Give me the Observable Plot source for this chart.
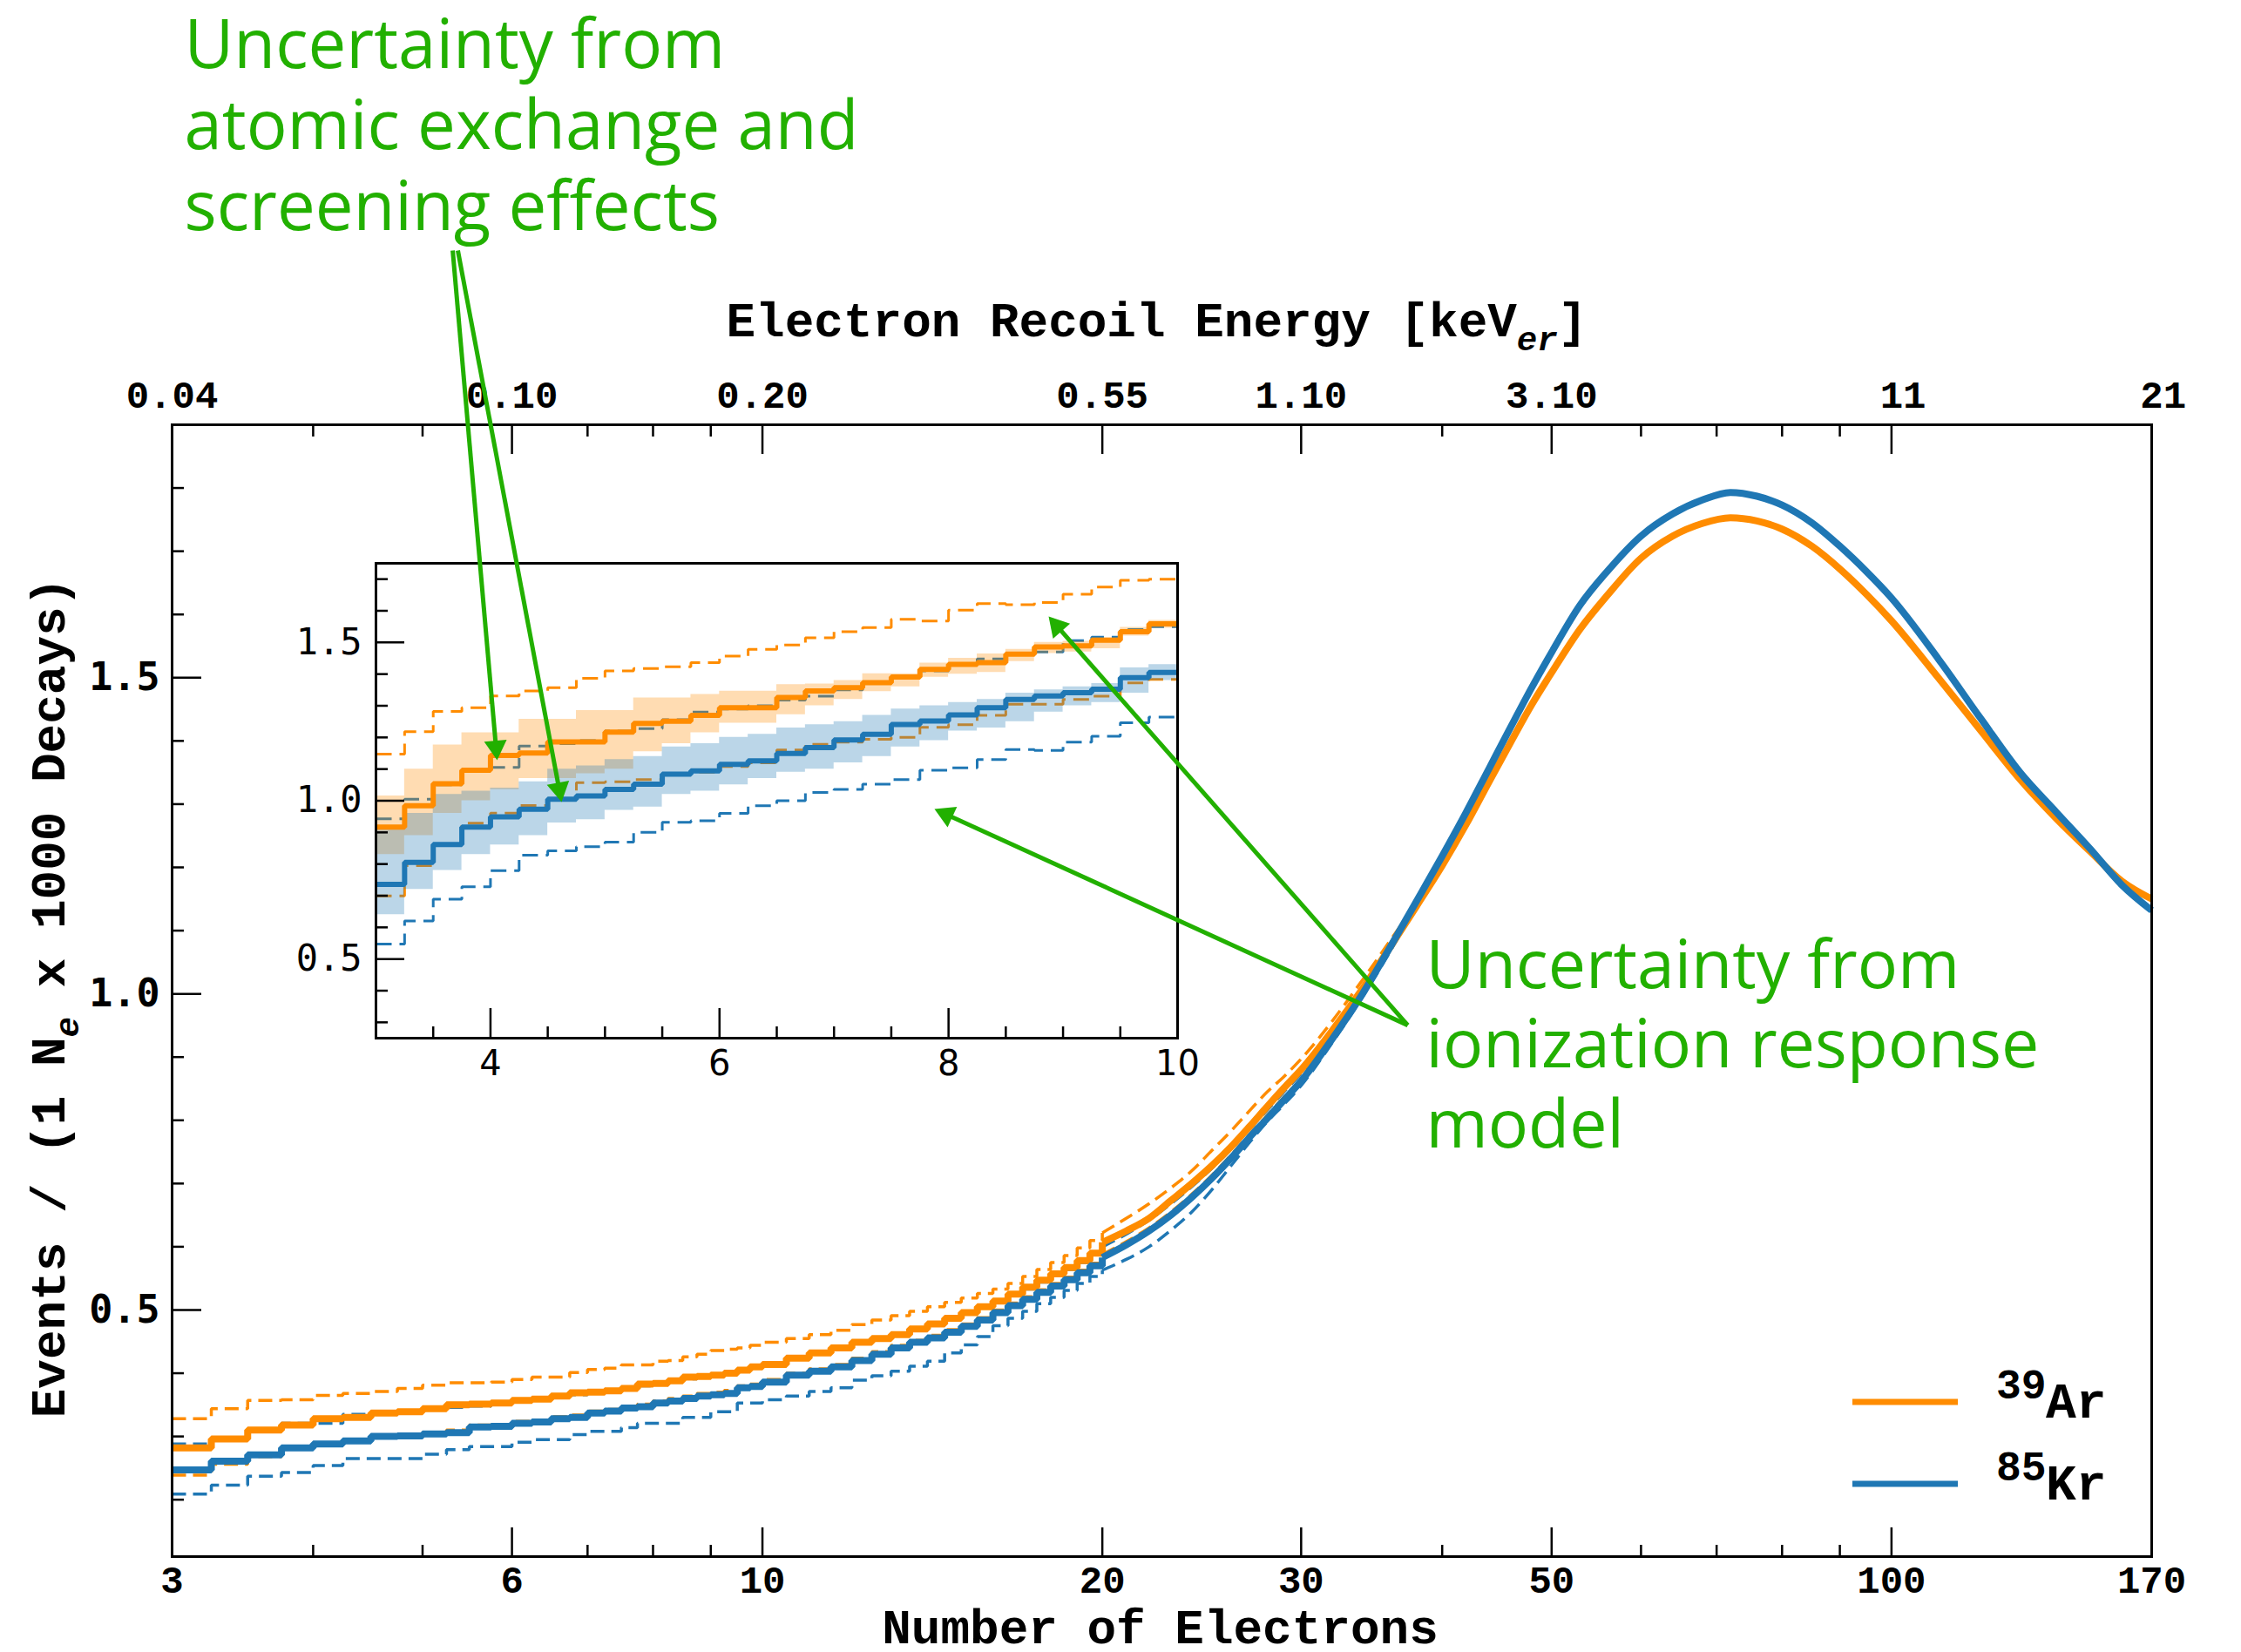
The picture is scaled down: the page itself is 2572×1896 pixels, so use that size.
<!DOCTYPE html>
<html>
<head>
<meta charset="utf-8">
<script src="https://cdn.jsdelivr.net/npm/d3@7"></script>
<script src="https://cdn.jsdelivr.net/npm/@observablehq/plot@0.6"></script>
<style>
  html, body { margin: 0; padding: 0; background: #fff; }
  #fig { position: relative; width: 2572px; height: 1896px; overflow: hidden; }
  #fig svg { position: absolute; }
  #fig svg text, #fig svg tspan { white-space: pre; }
</style>
</head>
<body>
<div id="fig"></div>
<script>
// ---------------- main spectrum: Number of electrons (log x) ----------------
// fine bins below 20 electrons (drawn as steps)
const stepNe = [3, 3.25, 3.5, 3.75, 4, 4.25, 4.5, 4.75, 5, 5.25, 5.5, 5.75, 6, 6.25, 6.5, 6.75,
  7, 7.25, 7.5, 7.75, 8, 8.25, 8.5, 8.75, 9, 9.25, 9.5, 9.75,
  10, 10.5, 11, 11.5, 12, 12.5, 13, 13.5, 14, 14.5, 15, 15.5, 16, 16.5, 17, 17.5, 18, 18.5, 19, 19.5];

const arMain = [0.282, 0.296, 0.310, 0.318, 0.328, 0.330, 0.337, 0.339, 0.344, 0.350, 0.351, 0.353, 0.357, 0.359, 0.364, 0.369,
  0.370, 0.372, 0.376, 0.383, 0.384, 0.388, 0.394, 0.395, 0.397, 0.400, 0.405, 0.410,
  0.414, 0.424, 0.432, 0.440, 0.449, 0.455, 0.461, 0.470, 0.478, 0.487, 0.496, 0.505, 0.514, 0.525, 0.536, 0.547, 0.557, 0.567, 0.578, 0.590];
const krMain = [0.247, 0.261, 0.271, 0.282, 0.288, 0.293, 0.300, 0.301, 0.304, 0.306, 0.315, 0.316, 0.321, 0.323, 0.328, 0.330,
  0.337, 0.340, 0.345, 0.347, 0.353, 0.356, 0.360, 0.364, 0.366, 0.368, 0.377, 0.379,
  0.386, 0.397, 0.403, 0.410, 0.420, 0.430, 0.440, 0.449, 0.456, 0.465, 0.474, 0.484, 0.496, 0.507, 0.517, 0.528, 0.538, 0.548, 0.559, 0.570];
const arUpper = [0.328, 0.344, 0.357, 0.358, 0.365, 0.368, 0.371, 0.376, 0.381, 0.385, 0.385, 0.386, 0.390, 0.394, 0.394, 0.401,
  0.406, 0.408, 0.413, 0.413, 0.419, 0.420, 0.426, 0.430, 0.436, 0.438, 0.440, 0.444,
  0.449, 0.455, 0.461, 0.468, 0.477, 0.484, 0.491, 0.498, 0.505, 0.512, 0.519, 0.526, 0.533, 0.542, 0.553, 0.564, 0.575, 0.586, 0.598, 0.610];
const arLower = [0.239, 0.256, 0.268, 0.280, 0.287, 0.292, 0.300, 0.302, 0.306, 0.310, 0.318, 0.319, 0.324, 0.326, 0.331, 0.334,
  0.340, 0.343, 0.348, 0.351, 0.356, 0.360, 0.364, 0.368, 0.370, 0.373, 0.380, 0.383,
  0.390, 0.400, 0.407, 0.414, 0.424, 0.434, 0.444, 0.452, 0.460, 0.469, 0.478, 0.488, 0.500, 0.511, 0.521, 0.532, 0.542, 0.552, 0.563, 0.574];
const krUpper = [0.288, 0.298, 0.310, 0.321, 0.321, 0.335, 0.336, 0.338, 0.343, 0.346, 0.348, 0.352, 0.355, 0.358, 0.362, 0.366,
  0.369, 0.372, 0.375, 0.380, 0.383, 0.387, 0.391, 0.394, 0.397, 0.400, 0.404, 0.409,
  0.413, 0.422, 0.430, 0.438, 0.447, 0.454, 0.460, 0.468, 0.476, 0.485, 0.494, 0.503, 0.512, 0.523, 0.533, 0.544, 0.554, 0.564, 0.575, 0.587];
const krLower = [0.209, 0.223, 0.237, 0.243, 0.254, 0.265, 0.265, 0.265, 0.272, 0.279, 0.284, 0.284, 0.291, 0.295, 0.295, 0.303,
  0.308, 0.308, 0.314, 0.321, 0.321, 0.321, 0.330, 0.330, 0.339, 0.339, 0.353, 0.353,
  0.358, 0.364, 0.371, 0.377, 0.389, 0.396, 0.403, 0.411, 0.419, 0.432, 0.445, 0.458, 0.475, 0.487, 0.498, 0.510, 0.520, 0.531, 0.542, 0.553];

// from 20 electrons upward the bins are too narrow to show individually
const smoothNe = [20, 21, 22, 23, 24, 25, 26, 27, 28, 29, 30, 32, 34, 36, 38, 40, 42, 44, 46, 48, 50,
  53, 56, 60, 64, 68, 72, 76, 80, 85, 90, 95, 100, 110, 120, 130, 140, 150, 160, 170];
const arSmooth = [0.607, 0.625, 0.645, 0.673, 0.700, 0.728, 0.758, 0.790, 0.822, 0.852, 0.880, 0.943, 1.008, 1.075, 1.140, 1.203, 1.268, 1.335, 1.398, 1.457, 1.508,
  1.577, 1.630, 1.689, 1.724, 1.744, 1.753, 1.748, 1.735, 1.708, 1.672, 1.632, 1.590, 1.500, 1.416, 1.339, 1.277, 1.225, 1.178, 1.150];
const krSmooth = [0.583, 0.603, 0.625, 0.650, 0.678, 0.708, 0.740, 0.773, 0.803, 0.833, 0.862, 0.930, 1.000, 1.075, 1.148, 1.218, 1.287, 1.356, 1.422, 1.484, 1.540,
  1.615, 1.668, 1.724, 1.759, 1.781, 1.793, 1.787, 1.773, 1.745, 1.708, 1.668, 1.626, 1.530, 1.435, 1.350, 1.287, 1.229, 1.172, 1.132];

const smoothDashNe = [20, 21, 22, 23, 24, 25, 26, 27, 28, 29, 30, 32, 34, 36, 38, 40];
const arUpperSmooth = [0.622, 0.645, 0.668, 0.693, 0.720, 0.752, 0.783, 0.815, 0.845, 0.870, 0.897, 0.958, 1.022, 1.085, 1.146, 1.208];
const arLowerSmooth = [0.588, 0.608, 0.630, 0.655, 0.683, 0.713, 0.745, 0.778, 0.808, 0.838, 0.866, 0.934, 1.004, 1.072, 1.140, 1.206];
const krUpperSmooth = [0.600, 0.620, 0.642, 0.668, 0.695, 0.724, 0.754, 0.786, 0.816, 0.846, 0.874, 0.942, 1.010, 1.080, 1.150, 1.220];
const krLowerSmooth = [0.563, 0.580, 0.600, 0.626, 0.655, 0.690, 0.728, 0.765, 0.798, 0.826, 0.855, 0.924, 0.995, 1.068, 1.142, 1.214];

// axis ticks
const xMajor = [3, 6, 10, 20, 30, 50, 100, 170];
const xMinor = [4, 5, 7, 8, 9, 40, 60, 70, 80, 90];
const energyLabels = ["0.04", "0.10", "0.20", "0.55", "1.10", "3.10", " 11", " 21"]; // keV_er at xMajor
const yMajor = [0.5, 1.0, 1.5];
const yMinor = [0.2, 0.3, 0.4, 0.6, 0.7, 0.8, 0.9, 1.1, 1.2, 1.3, 1.4, 1.6, 1.7, 1.8];

// ---------------- inset: 3 to 10 electrons ----------------
const insetNe = [3, 3.25, 3.5, 3.75, 4, 4.25, 4.5, 4.75, 5, 5.25, 5.5, 5.75, 6, 6.25,
  6.5, 6.75, 7, 7.25, 7.5, 7.75, 8, 8.25, 8.5, 8.75, 9, 9.25, 9.5, 9.75];
const insetAr = [0.917, 0.984, 1.054, 1.096, 1.143, 1.151, 1.186, 1.186, 1.217, 1.244, 1.251, 1.270, 1.294, 1.294,
  1.326, 1.347, 1.357, 1.373, 1.391, 1.415, 1.431, 1.436, 1.463, 1.486, 1.489, 1.507, 1.534, 1.559];
const insetKr = [0.736, 0.805, 0.862, 0.917, 0.949, 0.973, 1.005, 1.015, 1.036, 1.052, 1.084, 1.094, 1.115, 1.126,
  1.149, 1.168, 1.192, 1.210, 1.241, 1.252, 1.271, 1.294, 1.320, 1.331, 1.341, 1.352, 1.389, 1.405];
// atomic exchange / screening bands
const insetArBandLo = [0.830, 0.890, 0.960, 1.000, 1.035, 1.070, 1.070, 1.085, 1.100, 1.155, 1.180, 1.215, 1.245, 1.245,
  1.272, 1.300, 1.320, 1.345, 1.360, 1.390, 1.400, 1.405, 1.440, 1.465, 1.470, 1.480, 1.520, 1.545];
const insetArBandHi = [1.015, 1.100, 1.176, 1.215, 1.215, 1.257, 1.257, 1.285, 1.285, 1.325, 1.325, 1.336, 1.346, 1.346,
  1.367, 1.369, 1.380, 1.401, 1.401, 1.435, 1.450, 1.464, 1.478, 1.500, 1.504, 1.515, 1.548, 1.570];
const insetKrBandLo = [0.640, 0.720, 0.780, 0.830, 0.860, 0.890, 0.930, 0.940, 0.970, 0.980, 1.020, 1.030, 1.050, 1.070,
  1.090, 1.100, 1.120, 1.140, 1.170, 1.190, 1.220, 1.230, 1.250, 1.280, 1.300, 1.310, 1.340, 1.380];
const insetKrBandHi = [0.920, 0.960, 1.020, 1.030, 1.040, 1.060, 1.100, 1.110, 1.130, 1.140, 1.170, 1.180, 1.200, 1.210,
  1.230, 1.240, 1.250, 1.270, 1.290, 1.300, 1.310, 1.320, 1.340, 1.350, 1.360, 1.370, 1.420, 1.430];
// ionization response model bounds
const insetArUpper = [1.147, 1.218, 1.282, 1.294, 1.331, 1.347, 1.357, 1.387, 1.410, 1.418, 1.423, 1.436, 1.457, 1.478,
  1.492, 1.515, 1.534, 1.547, 1.573, 1.568, 1.602, 1.623, 1.619, 1.626, 1.652, 1.675, 1.696, 1.700];
const insetArLower = [0.699, 0.795, 0.862, 0.929, 0.961, 0.985, 1.005, 1.057, 1.060, 1.067, 1.084, 1.090, 1.108, 1.120,
  1.160, 1.178, 1.185, 1.194, 1.200, 1.232, 1.240, 1.270, 1.305, 1.305, 1.320, 1.330, 1.372, 1.383];
const insetKrUpper = [0.943, 1.005, 1.050, 1.094, 1.105, 1.173, 1.180, 1.190, 1.220, 1.228, 1.256, 1.280, 1.290, 1.300,
  1.318, 1.330, 1.350, 1.370, 1.390, 1.410, 1.430, 1.448, 1.465, 1.470, 1.506, 1.517, 1.541, 1.550];
const insetKrLower = [0.547, 0.620, 0.689, 0.728, 0.779, 0.828, 0.842, 0.855, 0.869, 0.900, 0.932, 0.937, 0.960, 0.984,
  1.000, 1.026, 1.036, 1.052, 1.067, 1.096, 1.104, 1.130, 1.162, 1.159, 1.185, 1.204, 1.246, 1.264];
const insetEnd = 10;

const insetXMajor = [4, 6, 8, 10];
const insetXMinor = [3.5, 4.5, 5, 5.5, 6.5, 7, 7.5, 8.5, 9, 9.5];
const insetYMajor = [0.5, 1.0, 1.5];
const insetYMinor = [0.3, 0.4, 0.6, 0.7, 0.8, 0.9, 1.1, 1.2, 1.3, 1.4, 1.6, 1.7];

// annotation arrows, in inset coordinates (electrons, events)
const arrowTailNe = [3.670, 3.715, 12.01, 12.01];
const arrowTailV  = [2.738, 2.738, 0.291, 0.291];
const arrowTipNe  = [4.058, 4.621, 8.874, 7.877];
const arrowTipV   = [1.128, 0.996, 1.582, 0.974];

const noteAtomic = "Uncertainty from\natomic exchange and\nscreening effects";
const noteIonization = "Uncertainty from\nionization response\nmodel";

// ---------------- styling ----------------
const ORANGE = "#ff8c00", BLUE = "#1f77b4", GREEN = "#22b000";
const MONO = "'Liberation Mono', 'Courier New', monospace";
const SANS_MONO = "'DejaVu Sans Mono', monospace";
const SANS = "'DejaVu Sans', sans-serif";
const NOTE = "'Open Sans', sans-serif";

const W = 2572, H = 1896, ML = 197, MR = 103, MT = 487, MB = 110;

const table = (xs, ys) => xs.map((x, i) => ({x, y: ys[i]}));
const bandTable = (xs, lo, hi, end) =>
  [...xs, end].map((x, i) => ({x, lo: lo[Math.min(i, lo.length - 1)], hi: hi[Math.min(i, hi.length - 1)]}));
const closeSteps = (xs, ys, end, next) => table([...xs, end], [...ys, next]);

const path = (data, stroke, width, dash, curve) => Plot.line(data, {
  x: "x", y: "y", stroke, strokeWidth: width, strokeDasharray: dash, curve,
  strokeLinejoin: curve === "step-after" ? "miter" : "round", strokeLinecap: "butt"
});

// rich text: x_{sub} and x^{sup}
function applyScripts(svg, fs) {
  d3.select(svg).selectAll("text").each(function () {
    const src = this.textContent;
    if (!/[_^]\{/.test(src)) return;
    const el = d3.select(this);
    el.text(null);
    let shift = 0;
    for (const part of src.split(/([_^]\{[^}]*\})/)) {
      if (!part) continue;
      const m = /^([_^])\{(.*)\}$/.exec(part);
      const target = m ? (m[1] === "_" ? 0.3 * fs : -0.45 * fs) : 0;
      const t = el.append("tspan").text(m ? m[2] : part);
      if (target !== shift) t.attr("dy", target - shift);
      shift = target;
      if (m) t.attr("font-size", 0.7 * fs).attr("font-style", m[1] === "_" ? "italic" : null);
    }
  });
}

// ---------------- main plot ----------------
const dashedMain = [
  [arUpper, arUpperSmooth, ORANGE], [arLower, arLowerSmooth, ORANGE],
  [krUpper, krUpperSmooth, BLUE], [krLower, krLowerSmooth, BLUE]
].flatMap(([lo, hi, c]) => [
  path(closeSteps(stepNe, lo, 20, hi[0]), c, 3.5, "16,8", "step-after"),
  path(table(smoothDashNe, hi), c, 3.5, "16,8", "monotone-x")
]);
const solidMain = [[arMain, arSmooth, ORANGE], [krMain, krSmooth, BLUE]].flatMap(([lo, hi, c]) => [
  path(closeSteps(stepNe, lo, 20, hi[0]), c, 8, null, "step-after"),
  path(table(smoothNe, hi), c, 8, null, "monotone-x")
]);

const tickStyle = {strokeWidth: 2.5, label: null};
const main = Plot.plot({
  width: W, height: H, marginLeft: ML, marginRight: MR, marginTop: MT, marginBottom: MB,
  x: {type: "log", domain: [3, 170], label: null},
  y: {domain: [0.11, 1.9], label: null},
  style: {background: "white", color: "black"},
  marks: [
    ...dashedMain,
    ...solidMain,
    Plot.frame({stroke: "black", strokeWidth: 3}),
    Plot.axisX(xMajor, {...tickStyle, anchor: "bottom", tickSize: -33, tickPadding: 43,
      tickFormat: d => `${d}`, fontFamily: MONO, fontWeight: "bold", fontSize: 44}),
    Plot.axisX(xMinor, {...tickStyle, anchor: "bottom", tickSize: -13, tickFormat: () => ""}),
    Plot.axisX(xMajor, {...tickStyle, anchor: "top", tickSize: -33, tickPadding: 53,
      tickFormat: d => energyLabels[xMajor.indexOf(d)], fontFamily: MONO, fontWeight: "bold", fontSize: 44}),
    Plot.axisX(xMinor, {...tickStyle, anchor: "top", tickSize: -13, tickFormat: () => ""}),
    Plot.axisY(yMajor, {...tickStyle, anchor: "left", tickSize: -34, tickPadding: 48,
      tickFormat: d3.format(".1f"), fontFamily: SANS_MONO, fontWeight: "bold", fontSize: 45}),
    Plot.axisY(yMinor, {...tickStyle, anchor: "left", tickSize: -14, tickFormat: () => ""}),
    // axis titles
    Plot.text(["Electron Recoil Energy [keV_{er}]"], {text: d => d, frameAnchor: "top", dx: -6, dy: -102,
      textAnchor: "middle", lineAnchor: "bottom", fontFamily: MONO, fontWeight: "bold", fontSize: 56}),
    Plot.text(["Number of Electrons"], {text: d => d, frameAnchor: "bottom", dx: -2, dy: 99,
      textAnchor: "middle", lineAnchor: "bottom", fontFamily: MONO, fontWeight: "bold", fontSize: 56}),
    Plot.text(["Events / (1 N_{e} x 1000 Decays)"], {text: d => d, frameAnchor: "left", dx: -124, dy: 8,
      rotate: -90, textAnchor: "middle", lineAnchor: "bottom", fontFamily: MONO, fontWeight: "bold", fontSize: 56}),
    // notes
    Plot.text([noteAtomic], {text: d => d, frameAnchor: "top-left", dx: 14, dy: -475, textAnchor: "start",
      lineAnchor: "top", lineHeight: 1.19, fontFamily: NOTE, fontSize: 78, fill: GREEN}),
    Plot.text([noteIonization], {text: d => d, frameAnchor: "top-left", dx: 1439, dy: 581, textAnchor: "start",
      lineAnchor: "top", lineHeight: 1.19, fontFamily: NOTE, fontSize: 77, fill: GREEN})
  ]
});
main.style.left = "0px";
main.style.top = "0px";

// legend (inside the frame, lower right)
const legendItems = [{mass: "39", el: "Ar", color: ORANGE}, {mass: "85", el: "Kr", color: BLUE}];
{
  const fr = W - MR, fb = H - MB;
  const g = d3.select(main).append("g")
    .attr("font-family", MONO).attr("font-weight", "bold").attr("fill", "black").attr("text-anchor", "start");
  legendItems.forEach((d, i) => {
    const y = fb - 177 + i * 94;
    g.append("line").attr("x1", fr - 343).attr("x2", fr - 222).attr("y1", y).attr("y2", y)
      .attr("stroke", d.color).attr("stroke-width", 7);
    g.append("text").attr("x", fr - 178).attr("y", y - 4).attr("font-size", 48).text(d.mass);
    g.append("text").attr("x", fr - 121).attr("y", y + 18).attr("font-size", 58).text(d.el);
  });
}

// ---------------- inset plot ----------------
const IW = 1040, IH = 615, IML = 110, IMR = 10, IMT = 10, IMB = 60;
const ix = d3.scaleLinear([3, 10], [IML, IW - IMR]);
const iy = d3.scaleLinear([0.25, 1.75], [IH - IMB, IMT]);

const HEAD = 15; // centroid-to-tip distance of the arrowhead, px
const arrows = arrowTipNe.map((_, i) => {
  const tx = ix(arrowTailNe[i]), ty = iy(arrowTailV[i]);
  const hx = ix(arrowTipNe[i]), hy = iy(arrowTipV[i]);
  const len = Math.hypot(hx - tx, hy - ty);
  const ux = (hx - tx) / len, uy = (hy - ty) / len;
  const cx = hx - HEAD * ux, cy = hy - HEAD * uy;
  return {
    x1: arrowTailNe[i], y1: arrowTailV[i],
    x2: ix.invert(cx), y2: iy.invert(cy),
    angle: Math.atan2(uy, ux) * 180 / Math.PI + 90
  };
});

const insetDashed = [
  [insetArUpper, ORANGE], [insetArLower, ORANGE], [insetKrUpper, BLUE], [insetKrLower, BLUE]
].map(([v, c]) => path(closeSteps(insetNe, v, insetEnd, v[v.length - 1]), c, 3, "18,9", "step-after"));
const insetBands = [
  [insetArBandLo, insetArBandHi, ORANGE], [insetKrBandLo, insetKrBandHi, BLUE]
].map(([lo, hi, c]) => Plot.areaY(bandTable(insetNe, lo, hi, insetEnd), {
  x: "x", y1: "lo", y2: "hi", curve: "step-after", fill: c, fillOpacity: 0.3
}));
const insetSolid = [[insetAr, ORANGE], [insetKr, BLUE]]
  .map(([v, c]) => path(closeSteps(insetNe, v, insetEnd, v[v.length - 1]), c, 6, null, "step-after"));

const inset = Plot.plot({
  width: IW, height: IH, marginLeft: IML, marginRight: IMR, marginTop: IMT, marginBottom: IMB,
  x: {domain: [3, 10], label: null},
  y: {domain: [0.25, 1.75], label: null},
  style: {background: "none", overflow: "visible", color: "black"},
  marks: [
    Plot.frame({fill: "white", stroke: null}),
    ...insetDashed,
    ...insetBands,
    ...insetSolid,
    Plot.frame({stroke: "black", strokeWidth: 3}),
    Plot.axisX(insetXMajor, {...tickStyle, anchor: "bottom", tickSize: -34, tickPadding: 48,
      tickFormat: d => `${d}`, fontFamily: SANS, fontSize: 40}),
    Plot.axisX(insetXMinor, {...tickStyle, anchor: "bottom", tickSize: -13, tickFormat: () => ""}),
    Plot.axisY(insetYMajor, {...tickStyle, anchor: "left", tickSize: -33, tickPadding: 49,
      tickFormat: d3.format(".1f"), fontFamily: SANS_MONO, fontSize: 42}),
    Plot.axisY(insetYMinor, {...tickStyle, anchor: "left", tickSize: -14, tickFormat: () => ""}),
    Plot.link(arrows, {x1: "x1", y1: "y1", x2: "x2", y2: "y2", stroke: GREEN, strokeWidth: 5}),
    Plot.dot(arrows, {x: "x2", y: "y2", symbol: "triangle", r: 9.65, fill: GREEN, rotate: "angle"})
  ]
});
inset.style.left = (431 - IML) + "px";
inset.style.top = (646 - IMT) + "px";

const fig = document.getElementById("fig");
fig.appendChild(main);
fig.appendChild(inset);
applyScripts(main, 56);
</script>
</body>
</html>
